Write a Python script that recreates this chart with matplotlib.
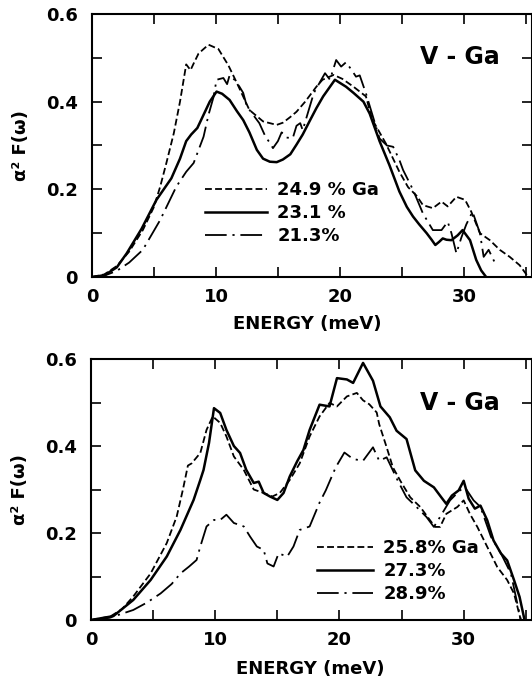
import matplotlib
matplotlib.use('Agg')
import matplotlib.pyplot as plt
from matplotlib.ticker import MultipleLocator, FixedLocator
from matplotlib.lines import Line2D

# ---- upper panel: V-Ga, 21.3 - 24.9 % Ga ----
top_dash_e = [0, 1.0, 2.0, 3.0, 4.1, 5.0, 5.5, 6.0, 6.6, 7.1, 7.6, 7.95, 8.2, 8.6, 9.4, 10.2, 11.0,
              11.7, 12.7, 13.8, 14.9, 15.4, 16.0, 16.5, 17.2, 18.1, 18.6, 19.5, 20.2, 21.1, 22.1,
              22.6, 23.7, 24.8, 25.5, 26.2, 26.7, 27.5, 28.2, 28.7, 29.4, 30.1, 30.6, 31.3, 32.1,
              32.9, 33.7, 34.5, 35.2]
top_dash_v = [0, 0.006, 0.025, 0.058, 0.107, 0.160, 0.206, 0.26, 0.328, 0.40, 0.485, 0.472, 0.487,
              0.51, 0.53, 0.52, 0.483, 0.442, 0.381, 0.355, 0.347, 0.352, 0.365, 0.377, 0.40, 0.434,
              0.450, 0.461, 0.452, 0.434, 0.412, 0.36, 0.305, 0.240, 0.205, 0.185, 0.164, 0.157,
              0.172, 0.161, 0.183, 0.176, 0.149, 0.10, 0.084, 0.062, 0.046, 0.027, 0.0]

top_solid_e = [0, 1.0, 2.0, 2.8, 4.0, 5.2, 6.4, 7.1, 7.6, 8.0, 8.5, 9.0, 9.5, 10.05, 10.5, 11.1, 11.7,
               12.2, 12.7, 13.3, 13.8, 14.35, 14.9, 15.4, 16.0, 16.5, 17.0, 17.6, 18.1, 18.65, 19.6,
               20.5, 21.1, 21.9, 22.4, 23.2, 24.0, 24.8, 25.4, 25.9, 26.4, 27.0, 27.4, 27.7, 28.0,
               28.3, 28.6, 29.0, 29.5, 29.9, 30.5, 31.0, 31.4, 31.8]
top_solid_v = [0, 0.004, 0.022, 0.054, 0.11, 0.176, 0.225, 0.27, 0.31, 0.325, 0.34, 0.37, 0.40,
               0.423, 0.418, 0.404, 0.378, 0.358, 0.33, 0.29, 0.27, 0.263, 0.262, 0.268, 0.28, 0.302,
               0.325, 0.358, 0.385, 0.412, 0.45, 0.434, 0.42, 0.40, 0.373, 0.31, 0.255, 0.195, 0.16,
               0.138, 0.12, 0.10, 0.085, 0.073, 0.080, 0.088, 0.085, 0.084, 0.095, 0.107, 0.084,
               0.039, 0.015, 0.0]

top_dd_e = [0, 1.0, 2.0, 3.0, 4.1, 5.5, 6.8, 7.6, 8.2, 8.6, 9.0, 9.4, 9.8, 10.05, 10.6, 10.9, 11.1,
            11.5, 11.9, 12.2, 12.5, 13.0, 13.5, 14.0, 14.35, 14.6, 15.0, 15.3, 15.7, 16.2, 16.5, 16.8,
            17.0, 17.9, 18.8, 19.2, 19.7, 20.1, 20.5, 21.0, 21.3, 21.6, 22.1, 23.2, 23.8, 24.3, 24.8,
            25.1, 25.9, 26.7, 27.5, 28.2, 28.7, 29.0, 29.4, 29.8, 30.2, 30.7, 31.3, 31.6, 32.0, 32.6]
top_dd_v = [0, 0.003, 0.014, 0.033, 0.062, 0.13, 0.206, 0.24, 0.26, 0.29, 0.32, 0.37, 0.41, 0.45,
            0.454, 0.44, 0.46, 0.45, 0.434, 0.42, 0.389, 0.37, 0.351, 0.32, 0.306, 0.294, 0.31, 0.33,
            0.318, 0.317, 0.345, 0.351, 0.335, 0.42, 0.465, 0.45, 0.495, 0.48, 0.49, 0.47, 0.457,
            0.46, 0.419, 0.316, 0.30, 0.297, 0.267, 0.244, 0.199, 0.145, 0.107, 0.107, 0.126, 0.10,
            0.054, 0.09, 0.12, 0.149, 0.10, 0.046, 0.062, 0.027]

top_labels = ['24.9 % Ga', '23.1 %', '21.3%']

# ---- lower panel: V-Ga, 25.8 - 28.9 % Ga ----
bot_dash_e = [0, 1.55, 2.5, 3.4, 4.8, 6.1, 6.9, 7.4, 7.8, 8.1, 8.8, 9.3, 9.8, 10.4, 10.9, 11.5, 12.3,
              13.1, 13.9, 14.6, 15.2, 16.0, 16.8, 17.6, 18.4, 19.2, 19.8, 20.6, 21.4, 21.9, 22.4,
              23.0, 23.2, 23.8, 24.3, 24.9, 25.7, 26.5, 27.3, 27.7, 28.1, 28.6, 29.5, 30.0, 30.5,
              31.1, 31.9, 32.7, 33.5, 34.05, 34.6]
bot_dash_v = [0, 0.008, 0.025, 0.054, 0.107, 0.177, 0.238, 0.30, 0.355, 0.36, 0.384, 0.437, 0.468,
              0.453, 0.422, 0.376, 0.345, 0.30, 0.292, 0.284, 0.292, 0.322, 0.36, 0.422, 0.468,
              0.499, 0.491, 0.514, 0.522, 0.505, 0.496, 0.477, 0.45, 0.397, 0.351, 0.32, 0.282,
              0.26, 0.229, 0.214, 0.214, 0.244, 0.26, 0.275, 0.244, 0.214, 0.168, 0.122, 0.092,
              0.061, 0.0]

bot_solid_e = [0, 1.8, 3.4, 4.8, 6.1, 7.2, 8.26, 8.8, 9.06, 9.5, 9.9, 10.4, 10.9, 11.5, 12.0, 12.5,
               13.1, 13.5, 13.9, 14.4, 15.0, 15.5, 16.0, 16.6, 17.1, 17.6, 18.4, 19.2, 19.8, 20.6,
               21.1, 21.9, 22.7, 23.3, 24.05, 24.6, 25.4, 26.1, 26.8, 27.6, 28.2, 28.6, 29.05, 29.6,
               30.0, 30.4, 30.9, 31.35, 31.9, 32.4, 33.0, 33.5, 34.05, 34.5, 34.9]
bot_solid_v = [0, 0.009, 0.046, 0.092, 0.146, 0.207, 0.276, 0.322, 0.345, 0.407, 0.487, 0.476,
               0.437, 0.40, 0.384, 0.345, 0.315, 0.318, 0.292, 0.284, 0.276, 0.292, 0.33, 0.365,
               0.391, 0.437, 0.495, 0.491, 0.556, 0.553, 0.545, 0.591, 0.55, 0.491, 0.466, 0.435,
               0.416, 0.344, 0.32, 0.305, 0.282, 0.267, 0.286, 0.298, 0.32, 0.279, 0.256, 0.263,
               0.229, 0.183, 0.153, 0.137, 0.092, 0.053, 0.0]

bot_dd_e = [0, 1.5, 3.4, 4.5, 5.6, 6.5, 7.2, 7.9, 8.5, 8.8, 9.3, 9.9, 10.4, 10.9, 11.5, 12.3, 12.8,
            13.35, 13.9, 14.2, 14.7, 15.1, 15.8, 16.3, 16.8, 17.6, 18.4, 18.9, 19.7, 20.4, 21.1,
            21.9, 22.7, 23.2, 23.8, 24.3, 24.7, 25.4, 26.2, 27.0, 27.6, 28.1, 28.9, 29.7, 30.1, 30.8,
            31.35, 32.2, 33.0, 33.8, 34.6]
bot_dd_v = [0, 0.005, 0.023, 0.04, 0.061, 0.083, 0.107, 0.123, 0.138, 0.169, 0.215, 0.23, 0.23,
            0.242, 0.223, 0.215, 0.192, 0.169, 0.161, 0.13, 0.123, 0.153, 0.146, 0.169, 0.207,
            0.215, 0.27, 0.298, 0.351, 0.385, 0.37, 0.366, 0.397, 0.366, 0.374, 0.344, 0.32, 0.282,
            0.26, 0.237, 0.214, 0.237, 0.275, 0.298, 0.305, 0.275, 0.26, 0.191, 0.153, 0.107, 0.0]

bot_labels = ['25.8% Ga', '27.3%', '28.9%']

FONT = 'DejaVu Sans'
DASH = (3.8, 1.8)
DASHDOT = (12, 3.2, 1.2, 3.2)


def draw_panel(ax, series, labels, leg_anchor, handlelength):
    lines = []
    for (e, v), style in zip(series, ['dash', 'solid', 'dashdot']):
        if style == 'solid':
            ln, = ax.plot(e, v, color='black', lw=1.8, solid_joinstyle='round')
        elif style == 'dash':
            ln, = ax.plot(e, v, color='black', lw=1.3, dashes=DASH)
        else:
            ln, = ax.plot(e, v, color='black', lw=1.3, dashes=DASHDOT)
        lines.append(ln)

    ax.set_xlim(0, 35.5)
    ax.set_ylim(0, 0.6)
    ax.xaxis.set_major_locator(FixedLocator([0, 10, 20, 30]))
    ax.xaxis.set_minor_locator(FixedLocator([5, 15, 25, 35]))
    ax.yaxis.set_major_locator(FixedLocator([0, 0.2, 0.4, 0.6]))
    ax.yaxis.set_minor_locator(FixedLocator([0.1, 0.3, 0.5]))
    ax.set_yticklabels(['0', '0.2', '0.4', '0.6'])
    ax.tick_params(which='both', direction='in', top=True, right=True, length=7, width=1.2)
    ax.tick_params(axis='x', which='major', pad=8)
    ax.tick_params(axis='y', which='major', pad=10)
    for lab in ax.get_xticklabels() + ax.get_yticklabels():
        lab.set_fontsize(13)
        lab.set_fontweight('bold')
        lab.set_family(FONT)
    for sp in ax.spines.values():
        sp.set_linewidth(1.5)

    ax.set_xlabel('ENERGY (meV)', fontsize=13, fontweight='bold', family=FONT)
    ax.set_ylabel('α² F(ω)', fontsize=13, fontweight='bold', family=FONT)
    ax.yaxis.set_label_coords(-0.14, 0.5)

    ax.text(0.745, 0.835 if labels is top_labels else 0.83, 'V - Ga', transform=ax.transAxes,
            fontsize=17, fontweight='bold', family=FONT, ha='left', va='center')

    ax.legend(lines, labels, loc='upper left', bbox_to_anchor=leg_anchor, frameon=False,
              borderpad=0, borderaxespad=0, handlelength=handlelength, handletextpad=0.55,
              labelspacing=0.28, prop={'family': FONT, 'weight': 'bold', 'size': 13})


fig = plt.figure(figsize=(5.32, 6.77), dpi=100)

ax1 = fig.add_axes([92 / 532, 1 - 277 / 677, 440 / 532, 263 / 677])
draw_panel(ax1, [(top_dash_e, top_dash_v), (top_solid_e, top_solid_v), (top_dd_e, top_dd_v)],
           top_labels, (0.257, 0.365), 3.45)
ax1.xaxis.set_label_coords(0.489, -0.145)

ax2 = fig.add_axes([91 / 532, 1 - 620 / 677, 441 / 532, 261 / 677])
draw_panel(ax2, [(bot_dash_e, bot_dash_v), (bot_solid_e, bot_solid_v), (bot_dd_e, bot_dd_v)],
           bot_labels, (0.513, 0.31), 3.1)
ax2.xaxis.set_label_coords(0.498, -0.153)

fig.savefig('out.png', dpi=100)
